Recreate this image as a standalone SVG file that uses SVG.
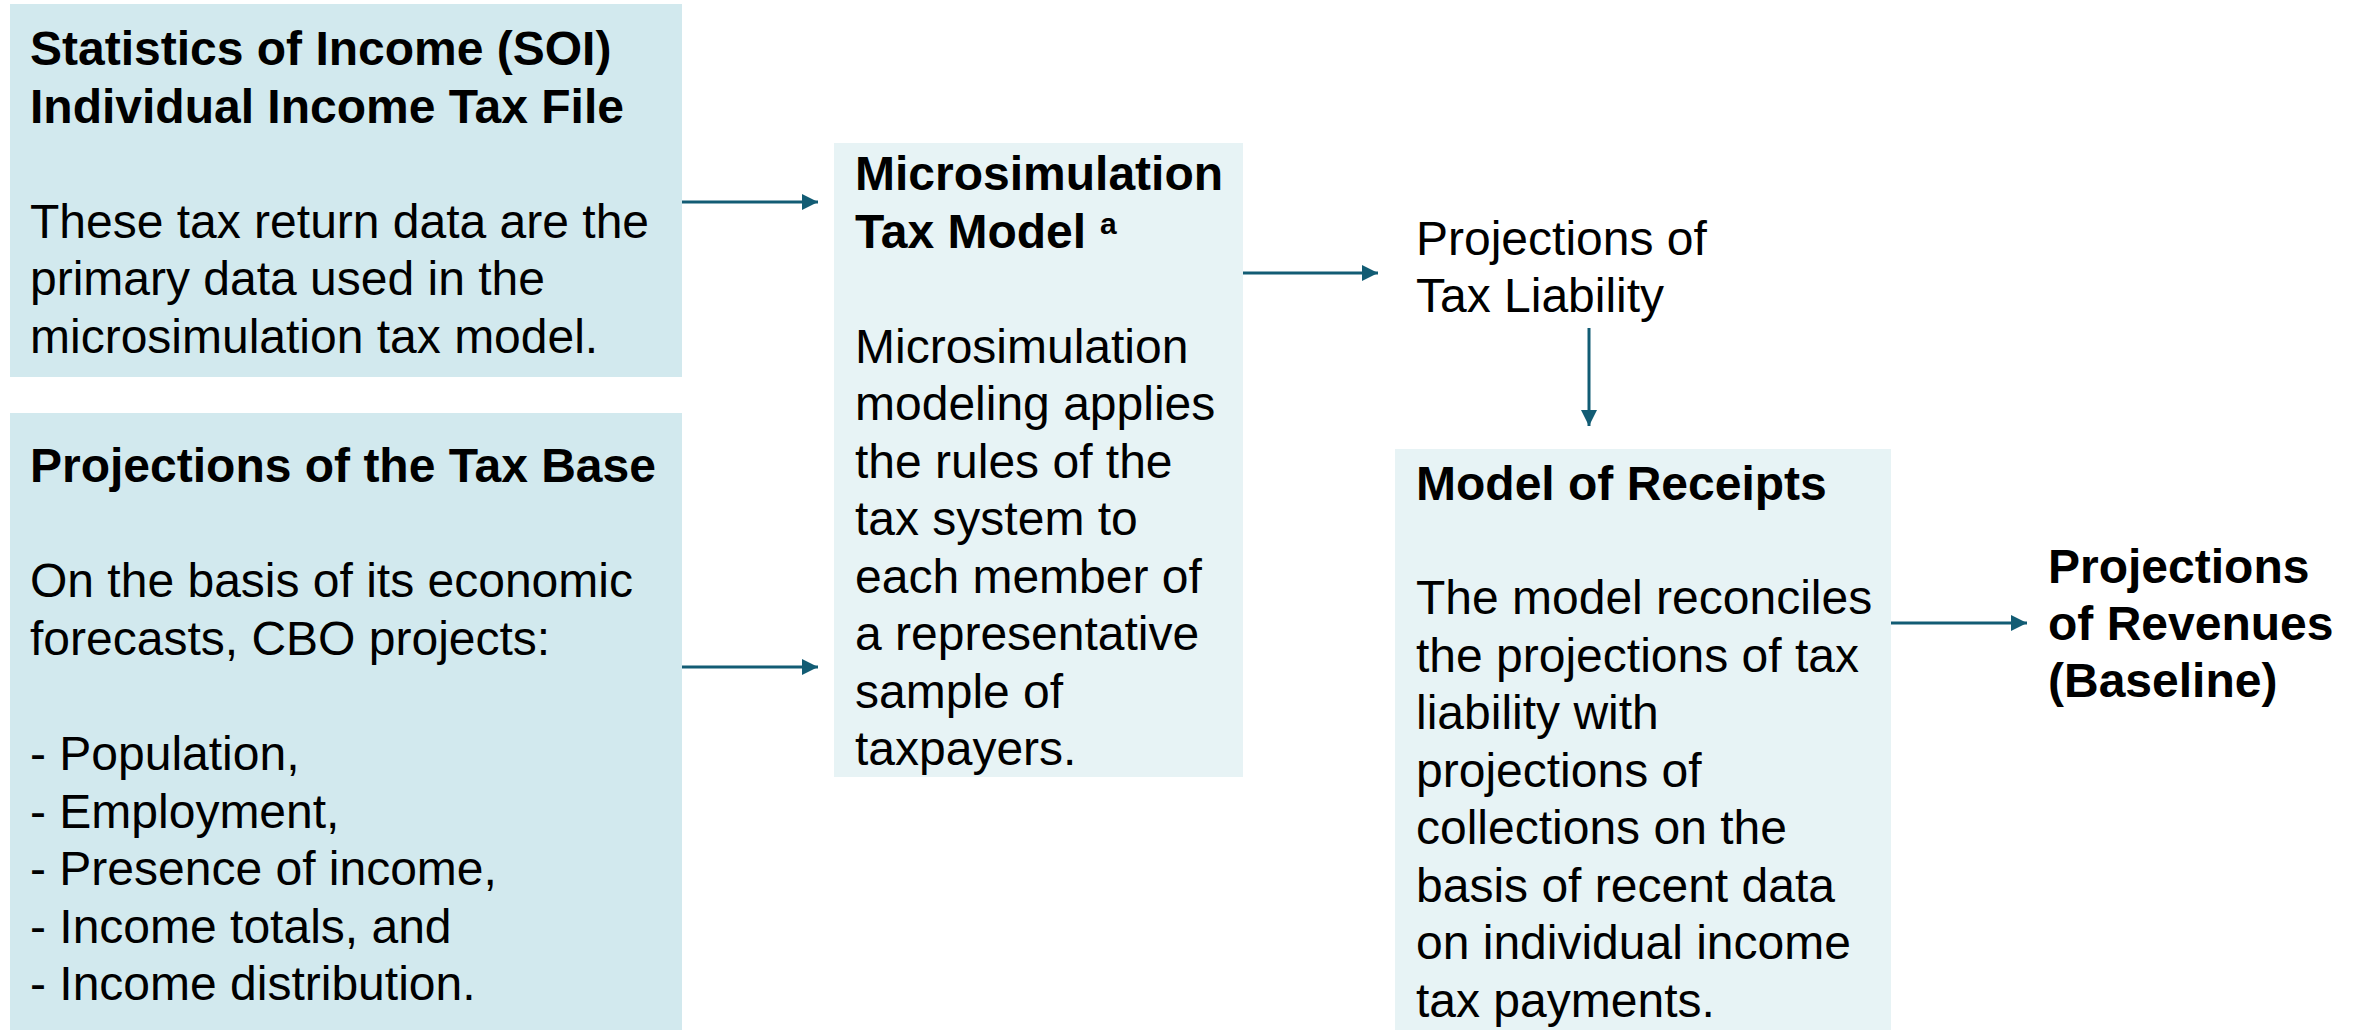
<svg xmlns="http://www.w3.org/2000/svg" width="2358" height="1030" viewBox="0 0 2358 1030">
  <style>
    .input { fill: #D2E9EE; }
    .model { fill: #E7F3F5; }
    text { font-family: "Liberation Sans", Arial, sans-serif; font-size: 48px; fill: #000; }
    .b { font-weight: bold; }
    .sup { font-size: 30px; font-weight: bold; }
    .flow { stroke: #125C74; stroke-width: 3; fill: none; }
  </style>
  <defs>
    <marker id="head" viewBox="0 0 16 16" refX="16" refY="8" markerWidth="16" markerHeight="16" markerUnits="userSpaceOnUse" orient="auto">
      <path d="M0,0 L16,8 L0,16 Z" fill="#125C74"/>
    </marker>
  </defs>
  <rect width="2358" height="1030" fill="#FFFFFF"/>

  <!-- SOI tax file input -->
  <g id="soi-file">
    <rect class="input" x="10" y="4" width="672" height="373"/>
    <text x="30" y="65" class="b">Statistics of Income (SOI)</text>
    <text x="30" y="123" class="b">Individual Income Tax File</text>
    <text x="30" y="238">These tax return data are the</text>
    <text x="30" y="295">primary data used in the</text>
    <text x="30" y="353">microsimulation tax model.</text>
  </g>

  <!-- Tax base projections input -->
  <g id="tax-base">
    <rect class="input" x="10" y="413" width="672" height="617"/>
    <text x="30" y="482" class="b">Projections of the Tax Base</text>
    <text x="30" y="597">On the basis of its economic</text>
    <text x="30" y="655">forecasts, CBO projects:</text>
    <text x="30" y="770">- Population,</text>
    <text x="30" y="828">- Employment,</text>
    <text x="30" y="885">- Presence of income,</text>
    <text x="30" y="943">- Income totals, and</text>
    <text x="30" y="1000">- Income distribution.</text>
  </g>

  <!-- Microsimulation model -->
  <g id="microsim-model">
    <rect class="model" x="834" y="143" width="409" height="634"/>
    <text x="855" y="190" class="b">Microsimulation</text>
    <text x="855" y="248" class="b">Tax Model</text>
    <text x="1100" y="234" class="sup">a</text>
    <text x="855" y="363">Microsimulation</text>
    <text x="855" y="420">modeling applies</text>
    <text x="855" y="478">the rules of the</text>
    <text x="855" y="535">tax system to</text>
    <text x="855" y="593">each member of</text>
    <text x="855" y="650">a representative</text>
    <text x="855" y="708">sample of</text>
    <text x="855" y="765">taxpayers.</text>
  </g>

  <!-- Tax liability output -->
  <g id="tax-liability">
    <text x="1416" y="255">Projections of</text>
    <text x="1416" y="312">Tax Liability</text>
  </g>

  <!-- Receipts model -->
  <g id="receipts-model">
    <rect class="model" x="1395" y="449" width="496" height="581"/>
    <text x="1416" y="500" class="b">Model of Receipts</text>
    <text x="1416" y="614">The model reconciles</text>
    <text x="1416" y="672">the projections of tax</text>
    <text x="1416" y="729">liability with</text>
    <text x="1416" y="787">projections of</text>
    <text x="1416" y="844">collections on the</text>
    <text x="1416" y="902">basis of recent data</text>
    <text x="1416" y="959">on individual income</text>
    <text x="1416" y="1017">tax payments.</text>
  </g>

  <!-- Revenue baseline output -->
  <g id="revenues">
    <text x="2048" y="583" class="b">Projections</text>
    <text x="2048" y="640" class="b">of Revenues</text>
    <text x="2048" y="697" class="b">(Baseline)</text>
  </g>

  <!-- Connectors -->
  <g id="connectors">
    <line class="flow" x1="682" y1="202" x2="818" y2="202" marker-end="url(#head)"/>
    <line class="flow" x1="682" y1="667" x2="818" y2="667" marker-end="url(#head)"/>
    <line class="flow" x1="1243" y1="273" x2="1378" y2="273" marker-end="url(#head)"/>
    <line class="flow" x1="1589" y1="328" x2="1589" y2="426" marker-end="url(#head)"/>
    <line class="flow" x1="1891" y1="623" x2="2027" y2="623" marker-end="url(#head)"/>
  </g>
</svg>
